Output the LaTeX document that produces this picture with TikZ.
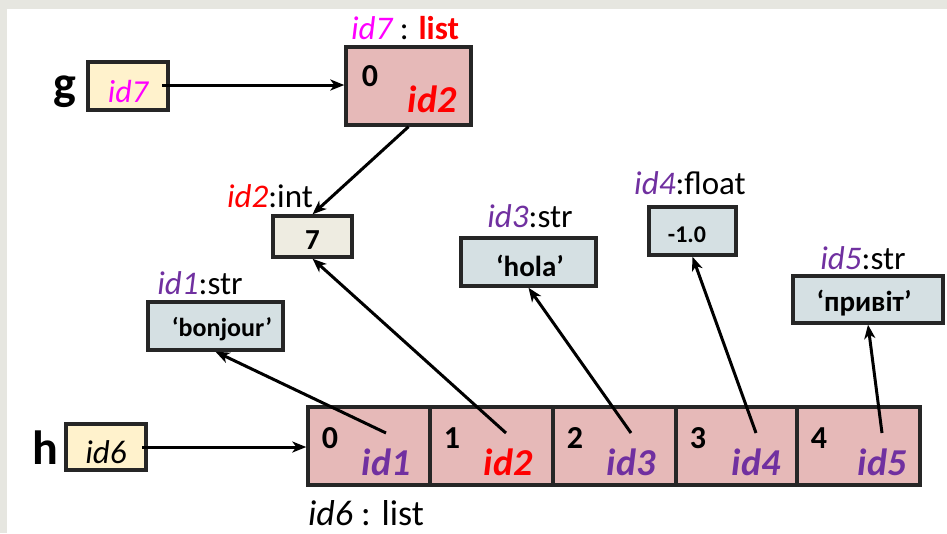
\documentclass[tikz,border=0pt]{standalone}
\usepackage{fontspec}
\setmainfont{Carlito}
\usetikzlibrary{arrows.meta,calc}
\definecolor{mag}{HTML}{FF00FF}
\definecolor{myred}{HTML}{FF0000}
\definecolor{purp}{HTML}{7030A0}
\definecolor{listfill}{HTML}{E6B9B8}
\definecolor{varfill}{HTML}{FFF2CC}
\definecolor{intfill}{HTML}{EEECE1}
\definecolor{strfill}{HTML}{D5E0E3}
\definecolor{framegray}{HTML}{E6E6E0}
\tikzset{
  box/.style={draw=black!85, line width=3.4pt, inner sep=0pt, anchor=center},
  varbox/.style={box, fill=varfill},
  listbox/.style={box, fill=listfill},
  intbox/.style={box, fill=intfill},
  strbox/.style={box, fill=strfill},
  arr/.style={line width=3pt, -{Stealth[length=14pt,width=11pt,inset=4pt]}},
  lbl/.style={inner sep=0pt, font=\fontsize{33}{35}\selectfont},
  val/.style={inner sep=0pt, font=\fontsize{29}{31}\selectfont\bfseries},
  idx/.style={inner sep=0pt, font=\fontsize{32}{34}\selectfont\bfseries},
  cid/.style={inner sep=0pt, font=\fontsize{38}{40}\selectfont\bfseries\itshape},
  varname/.style={inner sep=0pt, font=\fontsize{48}{50}\selectfont\bfseries},
}
\begin{document}
\begin{tikzpicture}[x=1pt,y=-1pt]
\useasboundingbox (0,0) rectangle (947,533);
\fill[framegray] (0,0) rectangle (947,533);
\fill[white] (7,9) rectangle (947,533);

% g variable
\node[varname] (gname) at (65,92) {g};
\node[varbox, minimum width=80pt, minimum height=48pt] (gvar) at (128,86) {};
\node[lbl, text=mag, font=\fontsize{32}{34}\selectfont\itshape] (gid) at (128,91) {id7};

% id7 list
\node[listbox, minimum width=125pt, minimum height=78pt] (lst7) at (408.5,86) {};
\node[idx] (l7i) at (370,76) {0};
\node[cid, text=myred] (l7v) at (432,99) {id2};
\node[lbl] (l7lab) at (405,28) {\textcolor{mag}{\itshape id7} : \textcolor{myred}{\bfseries list}};

% int 7
\node[intbox, minimum width=79pt, minimum height=41pt] (int7) at (312.5,236.5) {};
\node[val] (int7v) at (312.5,240) {7};
\node[lbl] (int7lab) at (270,196) {\textcolor{myred}{\itshape id2}:int};

% bonjour
\node[strbox, minimum width=135pt, minimum height=48pt] (s1) at (215.5,326) {};
\node[val, font=\fontsize{26}{28}\selectfont\bfseries] (s1v) at (222,329) {‘bonjour’};
\node[lbl] (s1lab) at (200,283) {\textcolor{purp}{\itshape id1}:str};

% hola
\node[strbox, minimum width=135pt, minimum height=48pt] (s3) at (528.5,262) {};
\node[val] (s3v) at (530,266) {‘hola’};
\node[lbl] (s3lab) at (530,216) {\textcolor{purp}{\itshape id3}:str};

% float
\node[strbox, minimum width=87pt, minimum height=48pt] (f4) at (692.5,231) {};
\node[val, font=\fontsize{24}{26}\selectfont\bfseries] (f4v) at (687,235) {-1.0};
\node[lbl] (f4lab) at (690,183) {\textcolor{purp}{\itshape id4}:float};

% pryvit
\node[strbox, minimum width=150pt, minimum height=47pt] (s5) at (868,299.5) {};
\node[val] (s5v) at (864,303) {‘привіт’};
\node[lbl] (s5lab) at (863,258) {\textcolor{purp}{\itshape id5}:str};

% h variable
\node[varname] (hname) at (45,448) {h};
\node[varbox, minimum width=80pt, minimum height=46pt] (hvar) at (106,447) {};
\node[lbl, font=\fontsize{33}{35}\selectfont\itshape] (hid) at (106,452) {id6};

% id6 list cells
\node[listbox, minimum width=122pt, minimum height=78pt] (c0) at (369,446) {};
\node[listbox, minimum width=123pt, minimum height=78pt] (c1) at (491.5,446) {};
\node[listbox, minimum width=123pt, minimum height=78pt] (c2) at (614.5,446) {};
\node[listbox, minimum width=121pt, minimum height=78pt] (c3) at (736.5,446) {};
\node[listbox, minimum width=123pt, minimum height=78pt] (c4) at (858.5,446) {};

\node[idx] (c0i) at (330,438) {0};
\node[idx] (c1i) at (452,438) {1};
\node[idx] (c2i) at (575,438) {2};
\node[idx] (c3i) at (698,438) {3};
\node[idx] (c4i) at (819,438) {4};

\node[cid, text=purp] (c0v) at (386,462) {id1};
\node[cid, text=myred] (c1v) at (508,462) {id2};
\node[cid, text=purp] (c2v) at (631,462) {id3};
\node[cid, text=purp] (c3v) at (756,462) {id4};
\node[cid, text=purp] (c4v) at (882,462) {id5};

\node[lbl, font=\fontsize{36}{38}\selectfont] (l6lab) at (366,513) {{\itshape id6} : list};

% arrow start points
\coordinate (gs) at (162,85);
\coordinate (hs) at (142,447);
\coordinate (a0) at (386,433);
\coordinate (a1) at (506,433);
\coordinate (a2) at (631,433);
\coordinate (a3) at (756,433);
\coordinate (a4) at (882,433);

\draw[arr] (gs) -- (lst7.west |- gs);
\draw[arr] (hs) -- (c0.west |- hs);
\draw[arr] (lst7.south) -- (int7.north);
\draw[arr] (a0) -- (s1.south);
\draw[arr] (a1) -- (int7.south);
\draw[arr] (a2) -- (s3.south);
\draw[arr] (a3) -- (f4.south);
\draw[arr] (a4) -- (s5.south);
\end{tikzpicture}
\end{document}
